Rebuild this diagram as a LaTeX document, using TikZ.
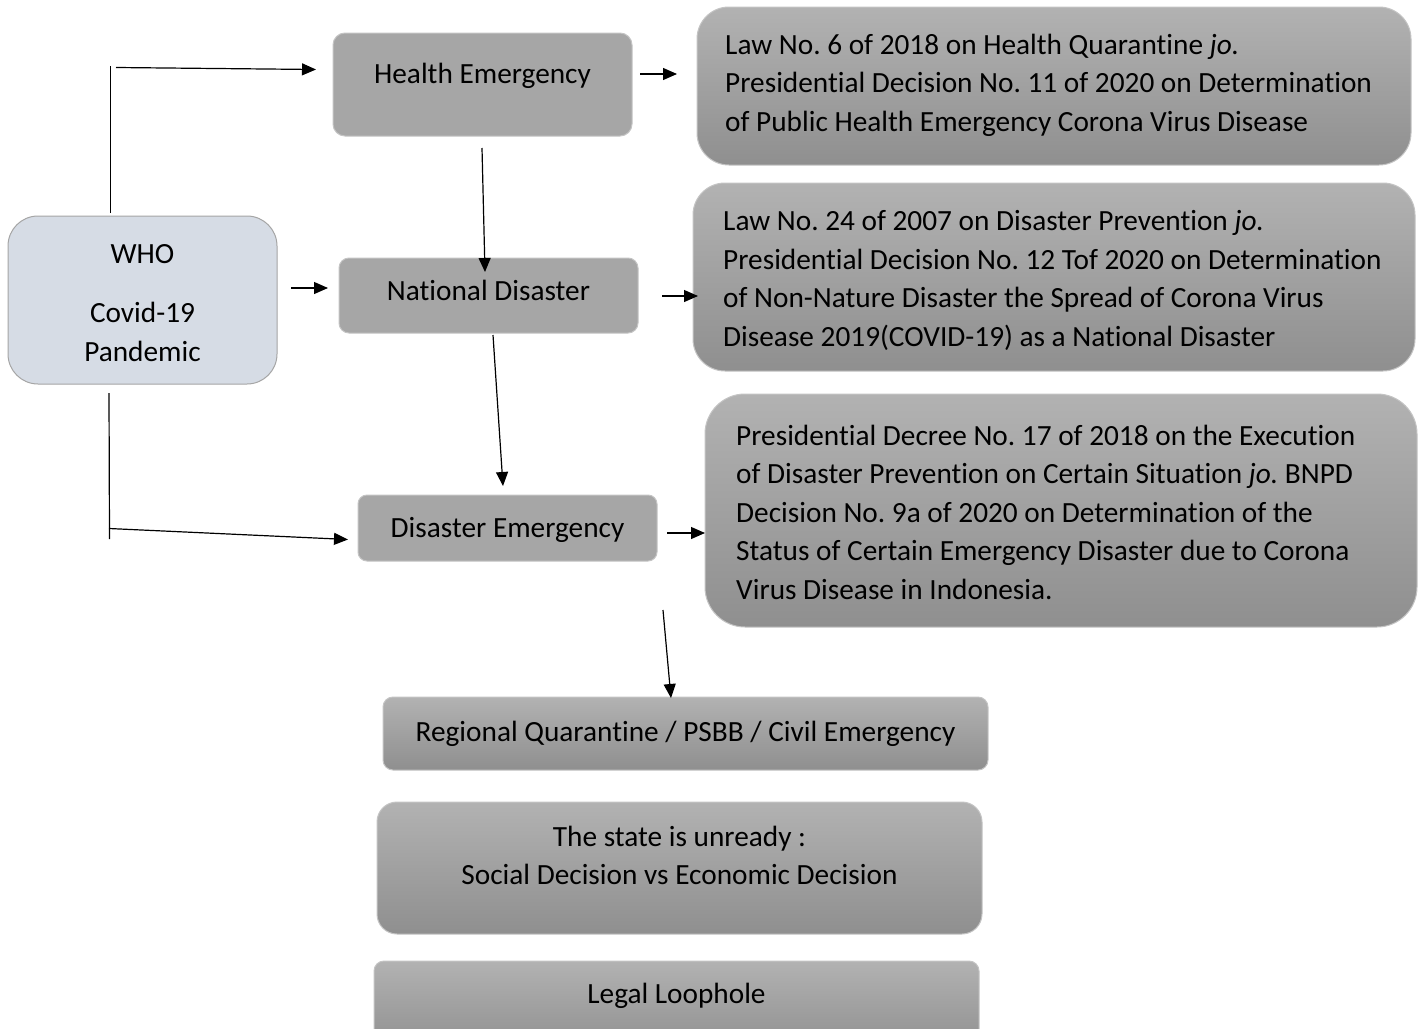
\documentclass[tikz,border=0pt]{standalone}
\usepackage{fontspec}
\setmainfont{Carlito}[Ligatures={NoCommon}]
\usetikzlibrary{arrows.meta,calc}
\definecolor{flatgray}{HTML}{A6A6A6}
\definecolor{gtop}{HTML}{B2B2B2}
\definecolor{gbot}{HTML}{8F8F8F}
\definecolor{edgegray}{HTML}{C4C4C4}
\definecolor{whofill}{HTML}{D6DCE5}
\definecolor{whoedge}{HTML}{A5A5A5}
\tikzset{
  flatbox/.style={draw=edgegray, line width=1pt, fill=flatgray, inner sep=0pt},
  gradbox/.style={draw=edgegray, line width=1pt, top color=gtop, bottom color=gbot, inner sep=0pt},
  txt/.style={inner sep=0pt, font=\frenchspacing\fontsize{29.3}{38.5}\selectfont},
  lawtxt/.style={txt, align=left, anchor=west},
  conn/.style={line width=1.2pt, draw=black},
  arr/.style={conn, -{Triangle[length=14pt,width=12pt]}},
}
\begin{document}
\begin{tikzpicture}[x=1pt,y=-1pt]
\useasboundingbox (0,0) rectangle (1421,1028);
\fill[white] (0,0) rectangle (1421,1028);

% WHO box
\node[draw=whoedge, line width=1pt, fill=whofill, rounded corners=30pt, minimum width=269pt, minimum height=168pt, inner sep=0pt] (who) at (142.5,300) {};
\node[txt] (whoA) at (142.5,254) {WHO};
\node[txt, align=center] (whoB) at (142.5,332) {Covid-19\\Pandemic};

% middle boxes
\node[flatbox, rounded corners=12pt, minimum width=299pt, minimum height=103pt] (he) at (482.5,84.5) {};
\node[txt] at (482.5,76) {Health Emergency};
\node[flatbox, rounded corners=10pt, minimum width=299pt, minimum height=75pt] (nd) at (488.5,295.5) {};
\node[txt] at (488.5,290) {National Disaster};
\node[flatbox, rounded corners=9pt, minimum width=299pt, minimum height=66pt] (de) at (507.5,528) {};
\node[txt] at (507.5,530) {Disaster Emergency};

% law boxes
\node[gradbox, rounded corners=32pt, minimum width=714pt, minimum height=158pt] (law1) at (1054,86) {};
\node[lawtxt] at (725,85) {Law No. 6 of 2018 on Health Quarantine \textit{jo.}\\Presidential Decision No. 11 of 2020 on Determination\\of Public Health Emergency Corona Virus Disease};
\node[gradbox, rounded corners=32pt, minimum width=722pt, minimum height=188pt] (law2) at (1054,277) {};
\node[lawtxt] at (723,280.5) {Law No. 24 of 2007 on Disaster Prevention \textit{jo.}\\Presidential Decision No. 12 Tof 2020 on Determination\\of Non-Nature Disaster the Spread of Corona Virus\\Disease 2019(COVID-19) as a National Disaster};
\node[gradbox, rounded corners=40pt, minimum width=712pt, minimum height=233pt] (law3) at (1061,510.5) {};
\node[lawtxt] at (736,512) {Presidential Decree No. 17 of 2018 on the Execution\\of Disaster Prevention on Certain Situation \textit{jo.} BNPD\\Decision No. 9a of 2020 on Determination of the\\Status of Certain Emergency Disaster due to Corona\\Virus Disease in Indonesia.};

% bottom boxes
\node[gradbox, rounded corners=10pt, minimum width=605pt, minimum height=73pt] (rq) at (685.5,733.5) {};
\node[txt] at (685.5,734) {Regional Quarantine / PSBB / Civil Emergency};
\node[gradbox, rounded corners=20pt, minimum width=605pt, minimum height=132pt] (st) at (679.5,868) {};
\node[txt, align=center] at (679.5,855.5) {The state is unready :\\Social Decision vs Economic Decision};
\node[gradbox, rounded corners=10pt, minimum width=605pt, minimum height=90pt] (ll) at (676.5,1006) {};
\node[txt] at (676.5,996) {Legal Loophole};

% free-end coordinates
\coordinate (v1a) at (110.5,213);
\coordinate (v1b) at (110.5,66);
\coordinate (h1a) at (116,67.5);
\coordinate (h1b) at (316,69.5);
\coordinate (v2a) at (109,393);
\coordinate (v2b) at (109.5,539);
\coordinate (h2a) at (109,528.5);
\coordinate (h2b) at (348,539.5);
\coordinate (a3a) at (291,288);
\coordinate (a3b) at (328,288);
\coordinate (a4a) at (640,74);
\coordinate (a4b) at (677,74);
\coordinate (a5a) at (662,296);
\coordinate (a5b) at (698,296);
\coordinate (a6a) at (667,533);
\coordinate (a6b) at (705,533);
\coordinate (d1a) at (482,148);
\coordinate (d1b) at (485,272);
\coordinate (d2a) at (493,335);
\coordinate (d2b) at (503,486);
\coordinate (d3a) at (663,610);
\coordinate (d3b) at (671,698);

\draw[conn] (v1a) -- (v1b);
\draw[arr] (h1a) -- (h1b);
\draw[conn] (v2a) -- (v2b);
\draw[arr] (h2a) -- (h2b);
\draw[arr] (a3a) -- (a3b);
\draw[arr] (a4a) -- (a4b);
\draw[arr] (a5a) -- (a5b);
\draw[arr] (a6a) -- (a6b);
\draw[arr] (d1a) -- (d1b);
\draw[arr] (d2a) -- (d2b);
\draw[arr] (d3a) -- (d3b);
\end{tikzpicture}
\end{document}
